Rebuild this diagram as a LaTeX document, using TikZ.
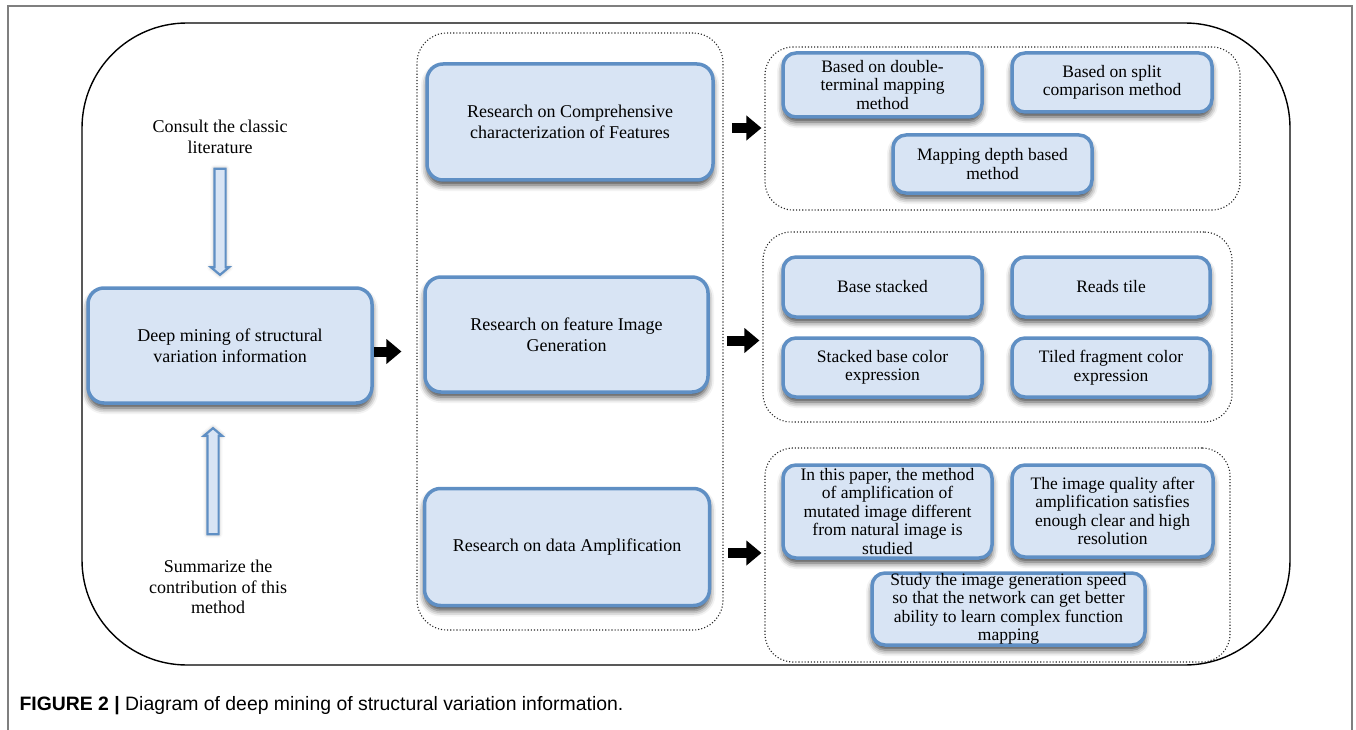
\documentclass[tikz,border=0pt]{standalone}
\usepackage{fontspec}
\setmainfont{Liberation Serif}
\newfontfamily\capfont{Liberation Sans}
\usepackage{tikz}
\usetikzlibrary{arrows.meta,positioning,calc,shapes.arrows,shadows.blur}
\definecolor{boxfill}{HTML}{D8E4F4}
\definecolor{boxline}{HTML}{5F8FC4}
\definecolor{framegray}{HTML}{7F7F7F}

\begin{document}
\begin{tikzpicture}[x=1pt,y=-1pt,
  every node/.style={font=\fontsize{18}{20.5}\selectfont,align=center},
  bluebox/.style={rectangle,rounded corners=16pt,draw=boxline,line width=3.5pt,fill=boxfill,inner sep=1pt,
    blur shadow={shadow xshift=0pt,shadow yshift=-5pt,shadow blur radius=6pt,shadow opacity=75}},
  smallbox/.style={bluebox,rounded corners=13pt,font=\fontsize{17.5}{18.5}\selectfont},
  grp/.style={rectangle,draw=black!85,dotted,line width=1.1pt,rounded corners=28pt,inner sep=0pt},
  hollowarrow/.style={single arrow,draw=boxline,fill=boxfill,line width=2.2pt,minimum height=106pt,inner sep=4.5pt,
    single arrow head extend=3.5pt,single arrow tip angle=100,
    blur shadow={shadow xshift=0pt,shadow yshift=0pt,shadow blur radius=4pt,shadow opacity=35}},
  blackarrow/.style={line width=10pt,-{Triangle[length=15pt,width=24pt]}}]
  \useasboundingbox (0,0) rectangle (1356,730);
  % page frame and outer outline
  \draw[framegray,line width=1.2pt] (8,730) |- (1352,6) -- (1352,730);
  \draw[line width=1.4pt,rounded corners=105pt] (82,23) rectangle (1290,665);

  % left column
  \node (consult) at (220,137) {Consult the classic\\literature};
  \node[bluebox,minimum width=284pt,minimum height=115pt] (deep) at (230,345.5) {Deep mining of structural\\variation information};
  \node (summ) at (218,587) {Summarize the\\contribution of this\\method};
  \node[hollowarrow,shape border rotate=270] (down) at (220,219.5) {};
  \node[hollowarrow,shape border rotate=90] (up) at (213,483.5) {};

  % middle column
  \node[grp,rounded corners=30pt,minimum width=306pt,minimum height=597pt] (research) at (570,331.5) {};
  \node[bluebox,minimum width=286pt,minimum height=116pt] (featbox) at (570,122) {Research on Comprehensive\\characterization of Features};
  \node[bluebox,minimum width=283pt,minimum height=115pt] (genbox) at (566.5,334.5) {Research on feature Image\\Generation};
  \node[bluebox,minimum width=285pt,minimum height=117pt] (amplbox) at (567,547) {Research on data Amplification};

  % right groups
  \node[grp,minimum width=475pt,minimum height=163pt] (feat) at (1002.5,128.5) {};
  \node[grp,minimum width=469pt,minimum height=190pt] (gen) at (997.5,327) {};
  \node[grp,minimum width=465pt,minimum height=214pt] (ampl) at (997.5,555) {};

  \node[smallbox,minimum width=199pt,minimum height=64pt] (feat1) at (882.5,85) {Based on double-\\terminal mapping\\method};
  \node[smallbox,minimum width=200pt,minimum height=59pt] (feat2) at (1112,82.5) {Based on split\\comparison method};
  \node[smallbox,minimum width=199pt,minimum height=58pt] (feat3) at (992.5,164) {Mapping depth based\\method};

  \node[smallbox,minimum width=199pt,minimum height=60pt] (gen1) at (882.5,287) {Base stacked};
  \node[smallbox,minimum width=198pt,minimum height=60pt] (gen2) at (1111,287) {Reads tile};
  \node[smallbox,minimum width=199pt,minimum height=59pt] (gen3) at (882.5,367.5) {Stacked base color\\expression};
  \node[smallbox,minimum width=198pt,minimum height=59pt] (gen4) at (1111,367.5) {Tiled fragment color\\expression};

  \node[smallbox,minimum width=209pt,minimum height=93pt,inner sep=0pt] (ampl1) at (887.5,511.5) {In this paper, the method\\of amplification of\\mutated image different\\from natural image is\\studied};
  \node[smallbox,minimum width=201pt,minimum height=92pt] (ampl2) at (1112.5,511) {The image quality after\\amplification satisfies\\enough clear and high\\resolution};
  \node[smallbox,minimum width=273pt,minimum height=72pt,inner sep=0pt] (ampl3) at (1008.5,609) {Study the image generation speed\\so that the network can get better\\ability to learn complex function\\mapping};

  % black arrows
  \draw[blackarrow,shorten >=15pt,transform canvas={yshift=-6pt}] (deep.east) -- (deep.east -| research.west);
  \foreach \a/\b in {featbox/feat,genbox/gen,amplbox/ampl}{
    \draw[blackarrow,shorten <=17pt,shorten >=3pt,transform canvas={yshift=-6pt}] (\a.east) -- (\a.east -| \b.west);
  }

  % caption
  \node[anchor=west,font=\capfont\fontsize{19.4}{22}\selectfont] (caption) at (16,706) {\textbf{FIGURE 2 |} Diagram of deep mining of structural variation information.};
\end{tikzpicture}
\end{document}
